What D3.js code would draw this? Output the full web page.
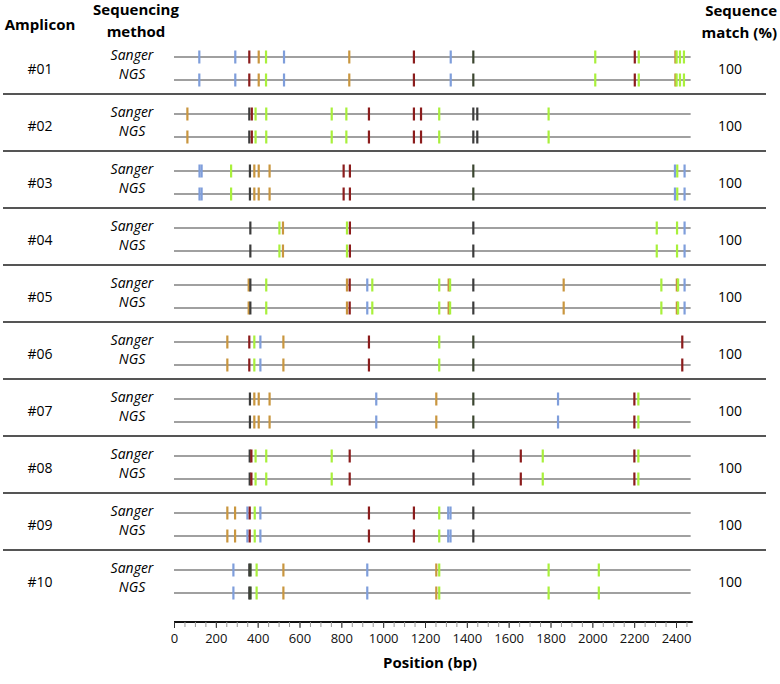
<!DOCTYPE html>
<html><head><meta charset="utf-8">
<script src="https://cdn.jsdelivr.net/npm/d3@7"></script>
<style>body{margin:0;background:#fff} svg{display:block}</style>
</head><body><svg id="c" width="780" height="684"></svg>
<script>
// ---------- data ----------
const amplicons = ["#01","#02","#03","#04","#05","#06","#07","#08","#09","#10"];
const methods = ["Sanger","NGS"];
const matchPct = [100,100,100,100,100,100,100,100,100,100];
const trackLength = 2470;
const axisTickValues = [0,200,400,600,800,1000,1200,1400,1600,1800,2000,2200,2400];
const minorTickValues = d3.range(0, 2451, 50);
// variant type codes: B blue, R dark red, O orange, G green, K black, D dark olive
const amp01 = [[121,"B"],[293,"B"],[360,"R"],[405,"O"],[440,"G"],[526,"B"],[838,"O"],[1147,"R"],[1323,"B"],[1431,"D"],[2014,"G"],[2203,"R"],[2222,"G"],[2397,"O"],[2403,"G"],[2419,"G"],[2438,"G"]];
const amp02 = [[64,"O"],[360,"K"],[372,"R"],[390,"G"],[441,"G"],[754,"G"],[824,"G"],[932,"R"],[1147,"R"],[1181,"R"],[1268,"G"],[1431,"K"],[1450,"K"],[1791,"G"]];
const amp03 = [[122,"B"],[132,"B"],[273,"G"],[363,"K"],[384,"O"],[405,"O"],[457,"O"],[811,"R"],[841,"R"],[1431,"D"],[2395,"B"],[2406,"G"],[2441,"B"]];
const amp04 = [[365,"K"],[504,"G"],[521,"O"],[827,"G"],[841,"R"],[1431,"K"],[2308,"G"],[2405,"G"],[2441,"B"]];
const amp05 = [[357,"O"],[365,"K"],[441,"G"],[827,"O"],[840,"R"],[924,"B"],[948,"G"],[1268,"G"],[1313,"O"],[1320,"G"],[1431,"K"],[1863,"O"],[2330,"G"],[2404,"O"],[2410,"G"],[2441,"B"]];
const amp06 = [[255,"O"],[360,"R"],[384,"G"],[413,"B"],[523,"O"],[932,"R"],[1268,"G"],[1431,"D"],[2430,"R"]];
const amp07 = [[363,"K"],[384,"O"],[405,"O"],[457,"O"],[967,"B"],[1254,"O"],[1431,"D"],[1836,"B"],[2201,"R"],[2220,"G"]];
const amp08 = [[362,"K"],[370,"R"],[390,"G"],[441,"G"],[754,"G"],[840,"R"],[1431,"K"],[1658,"R"],[1763,"G"],[2201,"R"],[2220,"G"]];
const amp09 = [[255,"O"],[292,"O"],[351,"B"],[362,"R"],[386,"G"],[413,"B"],[932,"R"],[1147,"R"],[1268,"G"],[1311,"B"],[1322,"B"],[1431,"K"]];
const amp10 = [[284,"B"],[360,"K"],[366,"D"],[395,"G"],[523,"O"],[924,"B"],[1254,"O"],[1268,"G"],[1791,"G"],[2031,"G"]];
const variants = [amp01,amp02,amp03,amp04,amp05,amp06,amp07,amp08,amp09,amp10];
const typeColors = {B:"#7f9edb", R:"#8b1c1c", O:"#c9963f", G:"#a9f03c", K:"#3c3c3c", D:"#3b4630"};

// ---------- drawing ----------
const svg = d3.select("#c");
const x = d3.scaleLinear().domain([0,2400]).range([174,676]);
const y = d3.scaleLinear().domain([0,amplicons.length-1]).range([57,570]);
const lineGap = 23;
const font = "'Open Sans', sans-serif";

// headers
svg.append("text").attr("x",40).attr("y",30).attr("text-anchor","middle")
  .attr("font-family",font).attr("font-weight","bold").attr("font-size",15).text("Amplicon");
svg.append("text").attr("x",136).attr("y",15).attr("text-anchor","middle")
  .attr("font-family",font).attr("font-weight","bold").attr("font-size",15).text("Sequencing");
svg.append("text").attr("x",136).attr("y",37).attr("text-anchor","middle")
  .attr("font-family",font).attr("font-weight","bold").attr("font-size",15).text("method");
svg.append("text").attr("x",777).attr("y",16).attr("text-anchor","end")
  .attr("font-family",font).attr("font-weight","bold").attr("font-size",15).text("Sequence");
svg.append("text").attr("x",777).attr("y",38).attr("text-anchor","end")
  .attr("font-family",font).attr("font-weight","bold").attr("font-size",15).text("match (%)");

// separators
svg.selectAll("line.sep").data(d3.range(amplicons.length-1)).join("line")
  .attr("class","sep").attr("x1",3).attr("x2",766)
  .attr("y1",i=>y(i+1)-20).attr("y2",i=>y(i+1)-20)
  .attr("stroke","#555").attr("stroke-width",2);

const groups = svg.selectAll("g.amp").data(amplicons).join("g")
  .attr("class","amp").attr("transform",(d,i)=>`translate(0,${y(i)})`);

groups.append("text").attr("x",40).attr("y",lineGap/2+5).attr("text-anchor","middle")
  .attr("font-family",font).attr("font-size",14).text(d=>d);
groups.append("text").attr("x",730).attr("y",lineGap/2+5).attr("text-anchor","middle")
  .attr("font-family",font).attr("font-size",14).text((d,i)=>matchPct[i]);

methods.forEach((m,k)=>{
  const off = k*lineGap;
  groups.append("text").attr("x",132).attr("y",off+(k===0?3:-1)).attr("text-anchor","middle")
    .attr("font-family",font).attr("font-style","italic").attr("font-size",14).text(m);
  groups.append("line").attr("x1",x(0)).attr("x2",x(trackLength))
    .attr("y1",off).attr("y2",off).attr("stroke","#a0a0a0").attr("stroke-width",2);
  groups.each(function(d,i){
    d3.select(this).selectAll("rect.m"+k).data(variants[i]).join("rect")
      .attr("class","m"+k)
      .attr("x",v=>x(v[0])-1.1).attr("width",2.2)
      .attr("y",off-6.5).attr("height",13)
      .attr("fill",v=>typeColors[v[1]]);
  });
});

// axis
const axisY = 622;
svg.append("line").attr("x1",x(0)).attr("x2",x(2480)).attr("y1",axisY).attr("y2",axisY)
  .attr("stroke","#111").attr("stroke-width",2);
svg.append("g").attr("transform",`translate(0,${axisY})`)
  .call(d3.axisBottom(x).tickValues(minorTickValues).tickSize(5).tickFormat(""))
  .call(g=>{g.select(".domain").remove(); g.selectAll("line").attr("stroke","#999");});
svg.append("g").attr("transform",`translate(0,${axisY})`)
  .call(d3.axisBottom(x).tickValues(axisTickValues).tickSize(6).tickPadding(6).tickFormat(d3.format("d")))
  .call(g=>{g.select(".domain").remove(); g.selectAll("line").attr("stroke","#333");
    g.selectAll("text").attr("font-family",font).attr("font-size",13).attr("fill","#111");});
svg.append("text").attr("x",430).attr("y",668).attr("text-anchor","middle")
  .attr("font-family",font).attr("font-weight","bold").attr("font-size",15).text("Position (bp)");
</script></body></html>
